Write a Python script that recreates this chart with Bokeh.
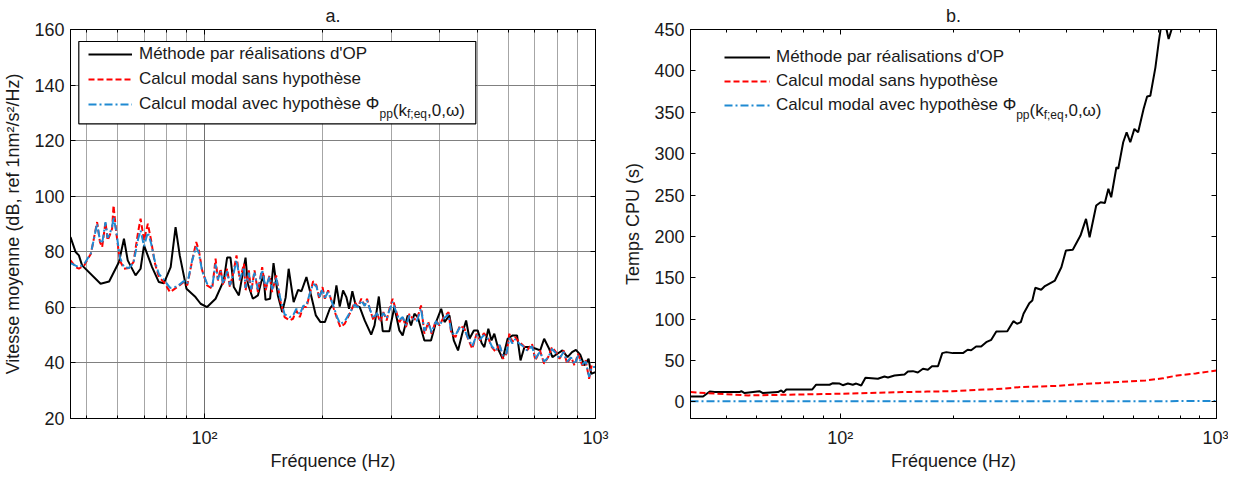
from bokeh.plotting import figure
from bokeh.models import (Range1d, LogAxis, LinearAxis, FixedTicker, CustomJSTickFormatter,
                          Legend, LegendItem, BoxAnnotation, Label)
from bokeh.layouts import row
from bokeh.embed import file_html
from bokeh.resources import INLINE

FONT = "Liberation Sans"
TXT = "#1a1a1a"

# ---------------- data : panel a ----------------
freq_op_a = [45.4, 46.8, 47.7, 48.6, 54.2, 57.0, 60.4, 62.2, 63.6, 66.6, 68.6, 70.0, 73.4, 76.4, 78.7,
             81.9, 84.3, 86.4, 89.9, 94.8, 97.7, 101.5, 106.7, 112.0, 114.2, 116.5, 118.8, 122.4, 127.3,
             129.0, 132.9, 136.9, 139.6, 141.5, 143.2, 147.1, 150.1, 154.0, 158.0, 161.2, 164.1, 169.0,
             173.5, 176.9, 182.2, 187.7, 192.6, 197.9, 203.1, 209.1, 214.1, 217.4, 221.7, 226.1, 230.5,
             234.2, 238.8, 243.6, 249.4, 256.8, 266.8, 272.1, 279.1, 285.6, 297.0, 305.8, 315.0, 321.2,
             330.8, 337.4, 344.2, 351.0, 365.0, 379.5, 391.0, 403.0, 411.0, 423.0, 434.0, 445.0, 456.0,
             466.7, 476.0, 488.5, 499.6, 511.6, 519.6, 532.0, 542.0, 551.0, 565.5, 579.0, 596.0, 614.0,
             630.0, 643.0, 658.0, 684.0, 704.0, 722.0, 739.0, 761.0, 776.0, 799.0, 823.0, 848.0, 871.0,
             891.0, 914.0, 936.0, 960.0, 975.0, 1000.0]
vit_op_a = [85.3, 79.9, 78.7, 75.1, 68.5, 69.3, 76.3, 84.7, 76.9, 71.5, 73.9, 82.3, 74.5, 69.1, 68.7,
            74.5, 88.9, 78.7, 66.7, 63.7, 61.3, 60.1, 63.1, 69.7, 77.9, 77.9, 67.3, 64.3, 77.9,
            68.5, 63.1, 64.3, 69.1, 71.5, 62.7, 63.1, 75.9, 64.3, 58.3, 63.5, 73.9, 61.9,
            66.3, 65.8, 70.9, 63.7, 57.1, 54.7, 54.7, 59.5, 61.3, 67.9, 60.3, 66.1, 63.7,
            59.5, 65.8, 60.7, 60.1, 55.3, 50.2, 53.5, 63.9, 51.4, 51.4, 60.1, 51.7, 49.9,
            57.1, 53.5, 57.7, 56.5, 48.1, 48.1, 54.7, 59.5, 54.7, 57.1, 48.1, 44.5, 50.5,
            55.3, 48.7, 51.7, 51.7, 47.1, 45.7, 52.3, 48.1, 50.5, 44.5, 41.5, 48.7, 49.9,
            49.9, 40.9, 45.7, 45.7, 45.1, 44.5, 48.7, 45.1, 42.1, 43.3, 44.5, 42.1, 43.9,
            44.7, 43.0, 39.1, 41.5, 36.1, 36.7]

freq_modal_a = [45.4, 46.8, 47.7, 49.2, 51.2, 53.1, 54.0, 54.7, 55.8, 56.5, 57.2, 58.0, 58.5, 59.5, 60.7,
                62.2, 64.1, 65.8, 67.6, 68.6, 70.0, 71.6, 73.0, 74.5, 76.4, 78.7, 81.6, 85.1, 88.5, 90.3,
                93.0, 95.2, 96.7, 98.6, 101.5, 104.6, 106.7, 108.2, 109.9, 111.6, 114.2, 116.1, 118.8,
                120.7, 123.1, 126.1, 127.3, 129.8, 131.6, 134.2, 136.9, 140.4, 143.2, 146.6, 148.9, 152.5,
                156.1, 160.2, 165.1, 168.3, 171.7, 175.2, 178.8, 182.3, 185.9, 189.6, 193.3, 196.4, 200.3,
                203.1, 207.1, 211.0, 214.1, 218.3, 222.5, 228.3, 232.8, 237.4, 242.1, 246.9, 251.8, 256.8,
                260.4, 265.3, 270.5, 275.8, 281.2, 286.6, 292.2, 298.0, 302.8, 308.7, 315.0, 321.2, 327.6,
                334.2, 340.8, 349.0, 357.9, 365.0, 373.6, 380.9, 390.6, 398.6, 409.2, 420.8, 427.7, 438.4,
                450.3, 462.3, 472.0, 484.0, 496.4, 507.0, 518.0, 532.5, 543.0, 556.0, 568.0, 580.0, 592.0,
                602.0, 613.0, 623.0, 638.0, 653.0, 668.0, 688.0, 702.0, 721.0, 739.0, 757.0, 774.0, 792.0,
                809.0, 829.0, 846.0, 866.0, 884.0, 902.0, 925.0, 944.0, 963.0, 978.0, 1000.0]
vit_sans_hyp = [76.9, 74.5, 73.9, 75.1, 79.3, 90.7, 83.5, 81.7, 90.7, 84.1, 85.9, 88.3, 96.7, 86.5, 76.9,
                73.9, 74.2, 76.3, 87.1, 91.9, 84.1, 90.1, 84.1, 76.3, 70.9, 69.1, 65.5, 67.3, 69.1, 67.9,
                76.9, 83.5, 80.5, 73.3, 67.9, 66.7, 77.5, 69.7, 73.9, 67.9, 73.9, 67.3, 73.3,
                78.7, 69.7, 75.7, 66.1, 73.3, 65.5, 73.3, 65.5, 74.5, 66.1, 71.5, 65.5, 71.5,
                62.5, 56.5, 55.3, 55.9, 58.9, 56.5, 60.1, 60.1, 64.9, 69.4, 67.9, 63.1, 67.3,
                63.1, 66.1, 62.5, 59.5, 55.9, 52.9, 54.1, 56.5, 58.9, 61.9, 60.1, 63.1, 60.7,
                63.1, 58.9, 55.3, 58.3, 54.7, 58.3, 55.3, 60.1, 63.1, 58.9, 54.7, 56.5, 52.9,
                57.7, 55.9, 55.5, 60.7, 50.5, 54.7, 50.5, 55.3, 53.5, 56.5, 58.3, 50.5, 49.3,
                53.5, 52.3, 48.7, 45.1, 50.5, 48.1, 50.7, 48.7, 45.7, 43.9, 46.9, 41.5, 43.3,
                50.5, 47.5, 49.3, 47.5, 46.3, 44.5, 46.9, 40.9, 44.5, 39.7, 42.1, 45.7, 43.9,
                41.5, 44.5, 39.7, 42.1, 39.1, 43.3, 39.1, 40.9, 34.3, 39.1, 38.5]
vit_avec_hyp = [75.9, 75.0, 74.5, 75.5, 79.5, 90.1, 84.1, 83.0, 90.7, 85.0, 86.5, 89.0, 92.5, 87.0, 78.0,
                74.5, 74.2, 76.0, 84.5, 87.7, 82.0, 87.0, 83.0, 77.0, 72.0, 70.0, 67.0, 67.5, 69.5, 68.5,
                77.0, 81.7, 79.5, 73.0, 68.5, 67.5, 75.5, 70.0, 73.0, 68.5, 73.0, 68.0, 72.5,
                77.0, 70.0, 74.5, 67.0, 72.5, 66.5, 72.5, 66.5, 73.5, 67.0, 71.0, 66.5, 70.5,
                63.5, 57.5, 56.5, 57.0, 59.5, 57.5, 60.5, 61.0, 65.0, 68.5, 67.5, 63.5, 66.5,
                63.5, 65.5, 62.5, 60.0, 56.5, 54.0, 55.0, 57.0, 59.0, 61.0, 60.0, 62.5, 60.5,
                62.5, 59.0, 56.0, 58.0, 55.5, 58.0, 56.0, 59.5, 62.0, 58.5, 55.5, 56.5, 53.5,
                57.0, 56.0, 55.0, 59.5, 51.5, 54.5, 51.0, 55.0, 53.5, 56.0, 57.5, 51.0, 50.0,
                53.0, 52.0, 49.0, 46.0, 50.0, 48.5, 50.0, 48.5, 46.0, 44.5, 46.5, 42.5, 43.5,
                49.0, 47.0, 48.5, 47.0, 46.0, 44.5, 46.0, 41.5, 44.0, 40.5, 42.0, 45.0, 43.5,
                41.5, 44.0, 40.5, 42.0, 39.5, 42.5, 39.5, 40.5, 35.0, 38.5, 38.5]

# ---------------- data : panel b ----------------
freq_op_b = [40.0, 43.2, 45.0, 46.3, 54.0, 54.6, 55.7, 61.0, 62.3, 68.3, 69.7, 70.7, 71.9, 84.3, 86.3,
             93.7, 95.6, 99.6, 101.6, 104.8, 108.0, 110.3, 113.7, 116.7, 125.9, 131.1, 133.9, 139.4,
             148.2, 151.3, 156.0, 160.8, 165.9, 171.0, 175.3, 181.9, 186.7, 191.4, 199.1, 211.9, 218.1,
             222.8, 229.7, 236.9, 244.3, 252.0, 259.9, 278.0, 288.5, 295.0, 302.0, 307.0, 318.0, 324.0,
             330.0, 342.0, 350.0, 372.0, 387.0, 398.0, 415.0, 435.0, 450.0, 460.0, 479.0, 492.0, 505.0,
             516.0, 525.0, 542.0, 548.0, 565.0, 577.0, 590.0, 605.0, 619.0, 640.0, 654.0, 667.0, 688.0,
             703.0, 713.0, 730.0, 746.0, 762.0, 790.0, 850.0, 920.0, 1000.0]
cpu_op = [6.6, 6.6, 12.7, 11.9, 11.9, 13.0, 10.7, 13.0, 10.7, 11.9, 13.9, 11.5, 15.1, 15.1, 20.8,
          20.8, 22.7, 22.2, 20.2, 22.2, 20.8, 22.2, 19.9, 29.2, 28.0, 30.8, 29.6, 32.0,
          33.2, 36.8, 37.2, 35.6, 40.1, 39.0, 43.2, 43.2, 59.0, 60.2, 59.0, 59.0, 63.0,
          62.4, 67.0, 67.0, 72.2, 75.1, 85.1, 85.5, 97.6, 94.4, 96.4, 106.5, 119.3, 122.6,
          138.0, 135.5, 140.0, 146.7, 162.8, 183.0, 183.8, 201.0, 221.2, 199.0, 237.3, 241.3, 240.5,
          257.5, 247.3, 283.6, 281.6, 313.8, 325.8, 313.8, 329.9, 325.8, 354.0, 369.0, 370.0, 404.0,
          436.6, 455.0, 458.0, 438.6, 452.0, 480.0, 560.0, 660.0, 760.0]
freq_modal_b = [40.0, 47.0, 57.0, 72.0, 100.0, 120.0, 147.0, 170.0, 199.0, 230.0, 270.0, 298.0, 380.0,
                400.0, 485.0, 560.0, 648.0, 720.0, 787.0, 880.0, 1000.0]
cpu_sans_hyp = [11.9, 9.9, 7.9, 8.7, 9.9, 10.8, 11.9, 12.5, 13.0, 14.5, 15.9, 17.9, 19.5,
                20.5, 22.7, 24.3, 26.0, 28.5, 32.0, 34.5, 38.0]
cpu_avec_hyp = [0.8, 0.8, 0.8, 0.8, 0.8, 0.8, 0.8, 0.8, 0.8, 0.8, 0.9, 0.9, 0.9,
                0.9, 0.9, 0.9, 0.9, 0.9, 1.0, 1.0, 1.0]

# ---------------- tick values ----------------
x_major = [100, 1000]
x_minor = [50, 60, 70, 80, 90, 200, 300, 400, 500, 600, 700, 800, 900]
y_ticks_a = [20, 40, 60, 80, 100, 120, 140, 160]
y_ticks_b = [0, 50, 100, 150, 200, 250, 300, 350, 400, 450]

labels = ["Méthode par réalisations d'OP", "Calcul modal sans hypothèse",
          "Calcul modal avec hypothèse Φ"]
sub_parts = [("pp", True), ("(k", False), ("f;eq", True), (",0,ω)", False)]

COL_OP = "#000000"
COL_RED = "#ff0000"
COL_BLUE = "#1f8ad2"

fmt_js = ("const e = Math.round(Math.log(tick)/Math.LN10);"
          "const s = {1:'\u00b9', 2:'\u00b2', 3:'\u00b3', 4:'\u2074'};"
          "return '10' + s[e];")


def style_axis(ax, size="18px"):
    ax.axis_line_color = "black"
    ax.major_tick_in = 5
    ax.major_tick_out = 0
    ax.minor_tick_in = 3
    ax.minor_tick_out = 0
    ax.major_tick_line_color = "black"
    ax.minor_tick_line_color = "black"
    ax.major_label_text_font = FONT
    ax.major_label_text_font_size = size
    ax.major_label_text_color = TXT
    ax.axis_label_text_font = FONT
    ax.axis_label_text_font_size = "18px"
    ax.axis_label_text_font_style = "normal"
    ax.axis_label_text_color = TXT


def make_panel(title, xr, yr, yticks, ylabel, fw, mbl, mbr, grid):
    p = figure(frame_width=fw, frame_height=389, x_axis_type="log",
               x_range=Range1d(*xr), y_range=Range1d(*yr),
               output_backend="svg", toolbar_location=None,
               min_border_left=mbl, min_border_right=mbr,
               min_border_top=21, min_border_bottom=0,
               title=title)
    p.title.align = "center"
    p.title.text_font = FONT
    p.title.text_font_size = "18px"
    p.title.text_font_style = "normal"
    p.title.text_color = TXT
    p.title.standoff = 7
    p.outline_line_color = "black"
    p.background_fill_color = "white"
    p.border_fill_color = "white"

    xt = FixedTicker(ticks=x_major, minor_ticks=x_minor)
    yt = FixedTicker(ticks=yticks, minor_ticks=[])
    p.xaxis.ticker = xt
    p.xaxis.formatter = CustomJSTickFormatter(code=fmt_js)
    p.yaxis.ticker = yt
    p.xaxis.axis_label = "Fréquence (Hz)"
    p.yaxis.axis_label = ylabel
    for ax in p.xaxis:
        style_axis(ax)
        ax.major_label_standoff = 9
        ax.axis_label_standoff = 0
    for ax in p.yaxis:
        style_axis(ax)
        ax.major_label_standoff = 6
        ax.axis_label_standoff = 8
        ax.minor_tick_line_color = None

    top = LogAxis(ticker=xt, formatter=CustomJSTickFormatter(code="return '';"))
    style_axis(top, "0px")
    top.major_label_standoff = 0
    right = LinearAxis(ticker=yt, formatter=CustomJSTickFormatter(code="return '';"))
    style_axis(right, "0px")
    right.major_label_standoff = 0
    right.minor_tick_line_color = None
    p.add_layout(top, "above")
    p.add_layout(right, "right")

    p.xgrid.ticker = xt
    p.ygrid.ticker = yt
    if grid:
        p.xgrid.grid_line_color = "#707070"
        p.xgrid.minor_grid_line_color = "#a6a6a6"
        p.ygrid.grid_line_color = "#808080"
    else:
        p.xgrid.grid_line_color = None
        p.ygrid.grid_line_color = None
    return p


def add_legend(p, renderers, loc_x, loc_y, glyph_w, standoff, spacing, text_end_x, base_y):
    items = [LegendItem(label=lab, renderers=[r]) for lab, r in zip(labels, renderers)]
    leg = Legend(items=items, location=(loc_x, loc_y), padding=0, margin=0,
                 spacing=spacing, glyph_width=glyph_w, glyph_height=20, label_height=20,
                 label_standoff=standoff, label_text_font=FONT, label_text_font_size="17px",
                 label_text_color=TXT, border_line_alpha=0, background_fill_alpha=0)
    p.add_layout(leg)
    # subscripted tail of the third legend entry
    x = text_end_x
    for txt, sub in sub_parts:
        size = 12 if sub else 17
        y = base_y - 4 if sub else base_y
        p.add_layout(Label(x=x, y=y, x_units="screen", y_units="screen", text=txt,
                           text_font=FONT, text_font_size=f"{size}px", text_color=TXT,
                           text_baseline="alphabetic", text_align="left"))
        w = {"pp": 13.3, "(k": 14.2, "f;eq": 20.0, ",0,ω)": 36.3}[txt]
        x += w


# ---------- panel a ----------
pa = make_panel("a.", (45.4, 1000), (20, 160), y_ticks_a,
                "Vitesse moyenne (dB, ref 1nm²/s²/Hz)", 525, 65, 25, True)
pa.add_layout(BoxAnnotation(left=8.3, right=405.3, top=377, bottom=294.7,
                            left_units="screen", right_units="screen",
                            top_units="screen", bottom_units="screen",
                            fill_color="white", fill_alpha=1.0,
                            line_color="black", line_width=1.2, line_alpha=1.0))
ra1 = pa.line(freq_op_a, vit_op_a, line_color=COL_OP, line_width=2)
ra2 = pa.line(freq_modal_a, vit_sans_hyp, line_color=COL_RED, line_width=2, line_dash="6 3")
ra3 = pa.line(freq_modal_a, vit_avec_hyp, line_color=COL_BLUE, line_width=2, line_dash="8 3 2 3")
add_legend(pa, [ra1, ra2, ra3], 18, 304, 44, 7, 5, 309.0, 308.5)

# ---------- panel b ----------
pb = make_panel("b.", (40, 1000), (-20, 450), y_ticks_b, "Temps CPU (s)", 526, 64, 12, False)
rb1 = pb.line(freq_op_b, cpu_op, line_color=COL_OP, line_width=2)
rb2 = pb.line(freq_modal_b, cpu_sans_hyp, line_color=COL_RED, line_width=2, line_dash="6 3")
rb3 = pb.line(freq_modal_b, cpu_avec_hyp, line_color=COL_BLUE, line_width=2, line_dash="8 3 2 3")
add_legend(pb, [rb1, rb2, rb3], 34, 303.3, 46, 6, 4, 325.7, 307.8)

layout = row(pa, pb)
open("out.html", "w").write(file_html(layout, INLINE))
